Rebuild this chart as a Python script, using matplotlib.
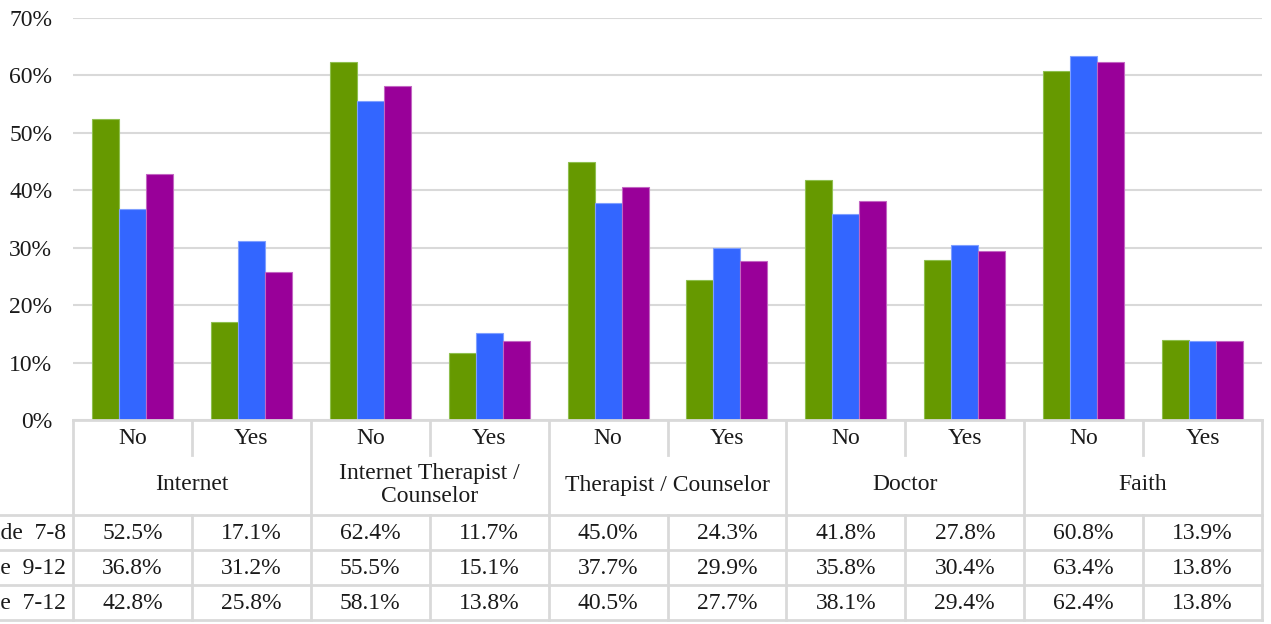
import matplotlib
matplotlib.use("Agg")
import matplotlib.pyplot as plt
import numpy as np
from matplotlib.transforms import blended_transform_factory

categories = ["Internet", "Internet Therapist /\nCounselor", "Therapist / Counselor", "Doctor", "Faith"]
answers = ["No", "Yes"]
series_names = ["Grade  7-8", "Grade  9-12", "Grade  7-12"]
grade_7_8 = [52.5, 17.1, 62.4, 11.7, 45.0, 24.3, 41.8, 27.8, 60.8, 13.9]
grade_9_12 = [36.8, 31.2, 55.5, 15.1, 37.7, 29.9, 35.8, 30.4, 63.4, 13.8]
grade_7_12 = [42.8, 25.8, 58.1, 13.8, 40.5, 27.7, 38.1, 29.4, 62.4, 13.8]
colors = ["#669900", "#3366FF", "#990099"]
edges = ["#8fbf4f", "#7f9fff", "#c266c2"]
yticks = [0, 10, 20, 30, 40, 50, 60, 70]

plt.rcParams['font.family'] = ['Liberation Serif', 'DejaVu Serif']

W, H = 1271, 624
fig = plt.figure(figsize=(W / 100, H / 100), dpi=100)
ax_left, ax_right, ax_top, ax_bottom = 73, 1262, 18, 420
ax = fig.add_axes([ax_left / W, 1 - ax_bottom / H, (ax_right - ax_left) / W, (ax_bottom - ax_top) / H])

series = [grade_7_8, grade_9_12, grade_7_12]
n = len(grade_7_8)
x = np.arange(n)
bw = 0.227
for i, (vals, c, e) in enumerate(zip(series, colors, edges)):
    ax.bar(x + (i - 1) * bw, vals, width=bw, color=c, edgecolor=e, linewidth=0.8, zorder=3)

fs = 17
tc = "#1a1a1a"
ax.set_xlim(-0.5, n - 0.5)
ax.set_ylim(0, 70)
ax.set_yticks(yticks)
ax.set_yticklabels([f"{t}%" for t in yticks], fontsize=fs, color=tc)
ax.set_xticks([])
ax.grid(axis="y", color="#d9d9d9", linewidth=1.5, zorder=0)
for s in ax.spines.values():
    s.set_visible(False)
ax.tick_params(axis="y", length=0, pad=15)

# table
tr = blended_transform_factory(ax.transData, fig.transFigure)
def fy(p):
    return 1 - p / H

lc = "#d9d9d9"
lw = 2.0
data_rows = [(515, 550), (550, 585), (585, 620)]

fig_tr = fig.transFigure
for yy in [515, 550, 585, 620]:
    fig.add_artist(plt.Line2D([0, ax_right / W], [fy(yy), fy(yy)], color=lc, lw=lw, transform=fig_tr))
fig.add_artist(plt.Line2D([ax_left / W, ax_right / W], [fy(420), fy(420)], color=lc, lw=lw, transform=fig_tr))
for k in range(n + 1):
    xv = k - 0.5
    if k % 2 == 0:
        fig.add_artist(plt.Line2D([xv, xv], [fy(420), fy(620)], color=lc, lw=lw, transform=tr))
    else:
        fig.add_artist(plt.Line2D([xv, xv], [fy(420), fy(455)], color=lc, lw=lw, transform=tr))
        fig.add_artist(plt.Line2D([xv, xv], [fy(515), fy(620)], color=lc, lw=lw, transform=tr))

for k in range(n):
    fig.text(k, fy(438), answers[k % 2], transform=tr, ha="center", va="center", fontsize=fs, color=tc)
for j, cat in enumerate(categories):
    fig.text(2 * j + 0.5, fy(485), cat, transform=tr, ha="center", va="center", fontsize=fs, color=tc,
             linespacing=1.15)
for r, (vals, (y0, y1)) in enumerate(zip(series, data_rows)):
    for k in range(n):
        fig.text(k, fy((y0 + y1) / 2 + 1), f"{vals[k]:.1f}%", transform=tr, ha="center", va="center",
                 fontsize=fs, color=tc)
    fig.text(66 / W, fy((y0 + y1) / 2 + 1), series_names[r], ha="right", va="center", fontsize=fs, color=tc)

fig.savefig("out.png", dpi=100)
